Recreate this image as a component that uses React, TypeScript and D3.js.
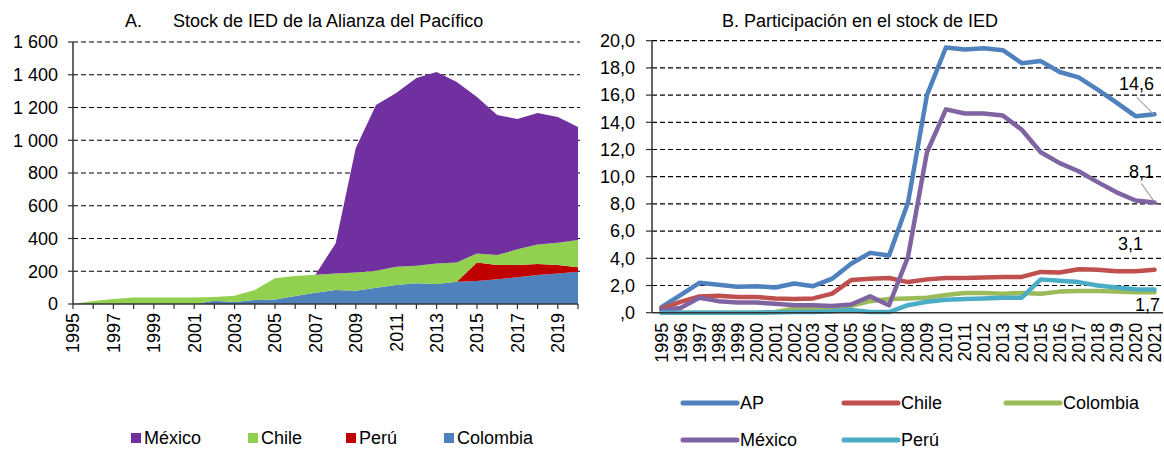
import React from 'react';
import * as d3 from 'd3';

// panel A: stock de IED (miles de millones de dólares), apilado
const yearsA = [1995, 1996, 1997, 1998, 1999, 2000, 2001, 2002, 2003, 2004, 2005, 2006, 2007,
  2008, 2009, 2010, 2011, 2012, 2013, 2014, 2015, 2016, 2017, 2018, 2019, 2020];
const colombiaA = [0, 0, 0, 0, 0, 0, 0, 20, 12, 24, 27, 49, 69, 85, 81, 100, 116, 126, 122, 136, 140, 151, 163, 177, 187, 197];
const peruA = [0, 0, 0, 0, 0, 0, 0, 0, 0, 0, 0, 0, 0, 0, 0, 0, 0, 0, 0, 0, 114, 87, 75, 67, 51, 27];
const chileA = [0, 18, 30, 39, 39, 39, 39, 23, 39, 61, 130, 122, 110, 102, 112, 103, 112, 108, 126, 118, 55, 61, 96, 120, 136, 167];
const mexicoA = [0, 0, 0, 0, 0, 0, 0, 0, 0, 0, 0, 0, 0, 183, 759, 1012, 1061, 1146, 1169, 1102, 955, 855, 796, 802, 768, 690];
const ticksA = [0, 200, 400, 600, 800, 1000, 1200, 1400, 1600];
const yearLabelsA = [1995, 1997, 1999, 2001, 2003, 2005, 2007, 2009, 2011, 2013, 2015, 2017, 2019];

// panel B: participación en el stock de IED (%)
const yearsB = ['1995', '1996', '1997', '1998', '1999', '2000', '2001', '2002', '2003', '2004', '2005', '2006', '2007',
  '2008', '2009', '2010', '2011', '2012', '2013', '2014', '2015', '2016', '2017', '2018', '2019', '2020', '2021'];
const apB = [0.4, 1.3, 2.2, 2.05, 1.9, 1.95, 1.85, 2.15, 1.95, 2.5, 3.6, 4.4, 4.2, 8.1, 16.0, 19.5, 19.35, 19.45, 19.3, 18.35, 18.5, 17.7, 17.3, 16.4, 15.45, 14.45, 14.6];
const chileB = [0.3, 0.8, 1.2, 1.25, 1.15, 1.15, 1.05, 1.0, 1.05, 1.4, 2.4, 2.5, 2.55, 2.25, 2.45, 2.55, 2.55, 2.58, 2.62, 2.63, 3.0, 2.95, 3.2, 3.15, 3.05, 3.05, 3.15];
const colombiaB = [0, 0, 0, 0, 0, 0, 0.05, 0.3, 0.3, 0.35, 0.5, 0.85, 1.0, 1.05, 1.1, 1.3, 1.45, 1.45, 1.4, 1.45, 1.4, 1.55, 1.6, 1.6, 1.55, 1.5, 1.5];
const mexicoB = [0.2, 0.35, 1.1, 0.85, 0.75, 0.75, 0.65, 0.55, 0.55, 0.5, 0.6, 1.2, 0.55, 4.1, 11.8, 14.95, 14.65, 14.65, 14.5, 13.45, 11.8, 11.0, 10.4, 9.6, 8.85, 8.25, 8.1];
const peruB = [0, 0, 0, 0, 0, 0, 0.02, 0.05, 0.05, 0.1, 0.2, 0.05, 0.05, 0.55, 0.8, 0.95, 1.0, 1.05, 1.1, 1.1, 2.45, 2.35, 2.25, 2.0, 1.85, 1.72, 1.7];
const ticksB = [0, 2, 4, 6, 8, 10, 12, 14, 16, 18, 20];

const font = 'Liberation Sans, Arial, sans-serif';
const fs = 18;

const colorsA: Record<string, string> = {
  'Colombia': '#4F81BD',
  'Perú': '#C00000',
  'Chile': '#92D050',
  'México': '#7030A0',
};

const seriesB = [
  { name: 'AP', values: apB, color: '#4F81BD' },
  { name: 'Chile', values: chileB, color: '#C0504D' },
  { name: 'Colombia', values: colombiaB, color: '#9BBB59' },
  { name: 'México', values: mexicoB, color: '#8064A2' },
  { name: 'Perú', values: peruB, color: '#4BACC6' },
];

const fmtA = (v: number) => v >= 1000 ? `${Math.floor(v / 1000)} ${String(v % 1000).padStart(3, '0')}` : String(v);
const fmtB = (v: number) => v === 0 ? ',0' : v.toFixed(1).replace('.', ',');

const PanelA = () => {
  const x = d3.scaleLinear().domain([1995, 2020]).range([73, 578]);
  const y = d3.scaleLinear().domain([0, 1600]).range([304, 42]);

  const rows = yearsA.map((yr, i) => ({
    year: yr,
    'Colombia': colombiaA[i],
    'Perú': peruA[i],
    'Chile': chileA[i],
    'México': mexicoA[i],
  }));
  const keys = ['Colombia', 'Perú', 'Chile', 'México'];
  const stacked = d3.stack<any>().keys(keys)(rows);
  const area = d3.area<any>()
    .x(d => x(d.data.year))
    .y0(d => y(d[0]))
    .y1(d => y(d[1]));

  const legend = [
    { name: 'México', x: 131 },
    { name: 'Chile', x: 248 },
    { name: 'Perú', x: 346 },
    { name: 'Colombia', x: 444 },
  ];

  return <g>
    <text x={125} y={27} fontSize={fs} fill='#000'>A.</text>
    <text x={173} y={27} fontSize={fs} fill='#000'>Stock de IED de la Alianza del Pacífico</text>
    {/* grid */}
    {ticksA.map(t => <g key={t}>
      {t > 0 && <line x1={x(1995)} x2={x(2020) + 2} y1={y(t)} y2={y(t)}
        stroke='#000' strokeWidth={1.2} strokeDasharray='5,3' />}
      <line x1={x(1995) - 5} x2={x(1995)} y1={y(t)} y2={y(t)} stroke='#333' strokeWidth={1.2} />
      <text x={58} y={y(t)} dy='0.35em' textAnchor='end' fontSize={fs}>{fmtA(t)}</text>
    </g>)}
    {/* areas */}
    {stacked.map(s => <path key={s.key} d={area(s) || ''} fill={colorsA[s.key]} />)}
    {/* axes */}
    <line x1={x(1995)} x2={x(1995)} y1={y(1600)} y2={y(0)} stroke='#333' strokeWidth={1.5} />
    <line x1={x(1995)} x2={x(2020)} y1={y(0)} y2={y(0)} stroke='#333' strokeWidth={1.5} />
    {yearsA.map(yr => <line key={yr} x1={x(yr)} x2={x(yr)} y1={y(0)} y2={y(0) + 5} stroke='#333' strokeWidth={1.2} />)}
    {yearLabelsA.map(yr => <text key={yr}
      transform={`translate(${x(yr)},${y(0) + 9}) rotate(-90)`}
      dy='0.35em' textAnchor='end' fontSize={fs}>{yr}</text>)}
    {/* legend */}
    {legend.map(l => <g key={l.name}>
      <rect x={l.x} y={433} width={10} height={10} fill={colorsA[l.name]} />
      <text x={l.x + 13} y={438} dy='0.35em' fontSize={fs}>{l.name}</text>
    </g>)}
  </g>;
};

const PanelB = () => {
  const x = d3.scaleBand().domain(yearsB).range([652, 1164]);
  const y = d3.scaleLinear().domain([0, 20]).range([312.7, 40.7]);
  const cx = (yr: string) => (x(yr) || 0) + x.bandwidth() / 2;
  const line = d3.line<number>()
    .x((_, i) => cx(yearsB[i]))
    .y(d => y(d));

  const last = yearsB[yearsB.length - 1];
  const n = yearsB.length - 1;
  const lx = cx(last);

  const legend = [
    { name: 'AP', x: 683, y: 403 },
    { name: 'Chile', x: 844, y: 403 },
    { name: 'Colombia', x: 1006, y: 403 },
    { name: 'México', x: 683, y: 440 },
    { name: 'Perú', x: 844, y: 440 },
  ];
  const colorOf = (name: string) => seriesB.find(s => s.name === name)!.color;

  return <g>
    <text x={860} y={27} textAnchor='middle' fontSize={fs}>B. Participación en el stock de IED</text>
    {ticksB.map(t => <g key={t}>
      {t > 0 && <line x1={652} x2={1163} y1={y(t)} y2={y(t)}
        stroke='#000' strokeWidth={1.2} strokeDasharray='5,3' />}
      <line x1={646} x2={652} y1={y(t)} y2={y(t)} stroke='#333' strokeWidth={1.2} />
      <text x={635} y={y(t)} dy='0.35em' textAnchor='end' fontSize={fs}>{fmtB(t)}</text>
    </g>)}
    {seriesB.map(s => <path key={s.name} d={line(s.values) || ''} fill='none'
      stroke={s.color} strokeWidth={4.5} strokeLinejoin='round' strokeLinecap='round' />)}
    <line x1={652} x2={652} y1={y(20)} y2={y(0)} stroke='#333' strokeWidth={1.5} />
    <line x1={652} x2={1163} y1={y(0)} y2={y(0)} stroke='#333' strokeWidth={1.5} />
    {yearsB.map(yr => <text key={yr}
      transform={`translate(${cx(yr)},${y(0) + 10}) rotate(-90)`}
      dy='0.35em' textAnchor='end' fontSize={fs}>{yr}</text>)}
    {/* data labels */}
    <line x1={lx - 1} y1={y(apB[n])} x2={lx - 18} y2={y(apB[n]) - 17} stroke='#A6A6A6' strokeWidth={1.2} />
    <text x={lx - 18} y={y(apB[n]) - 24} textAnchor='middle' fontSize={fs}>{fmtB(apB[n])}</text>
    <line x1={lx - 1} y1={y(mexicoB[n]) - 2} x2={lx - 13} y2={y(mexicoB[n]) - 19} stroke='#A6A6A6' strokeWidth={1.2} />
    <text x={lx - 13} y={y(mexicoB[n]) - 25} textAnchor='middle' fontSize={fs}>{fmtB(Math.floor(mexicoB[n] * 10) / 10)}</text>
    <text x={lx - 24} y={y(chileB[n]) - 20} textAnchor='middle' fontSize={fs}>{fmtB(Math.floor(chileB[n] * 10) / 10)}</text>
    <text x={lx - 7} y={y(peruB[n]) + 21} textAnchor='middle' fontSize={fs}>{fmtB(peruB[n])}</text>
    {/* legend */}
    {legend.map(l => <g key={l.name}>
      <line x1={l.x} x2={l.x + 54} y1={l.y} y2={l.y} stroke={colorOf(l.name)} strokeWidth={5} strokeLinecap='round' />
      <text x={l.x + 57} y={l.y} dy='0.35em' fontSize={fs}>{l.name}</text>
    </g>)}
  </g>;
};

const App = () => {
  return <svg width={1164} height={450}
    style={{ position: 'absolute', left: 0, top: 0, background: '#fff' }}
    fontFamily={font} fill='#000'>
    <PanelA />
    <PanelB />
  </svg>;
};

export default App;
